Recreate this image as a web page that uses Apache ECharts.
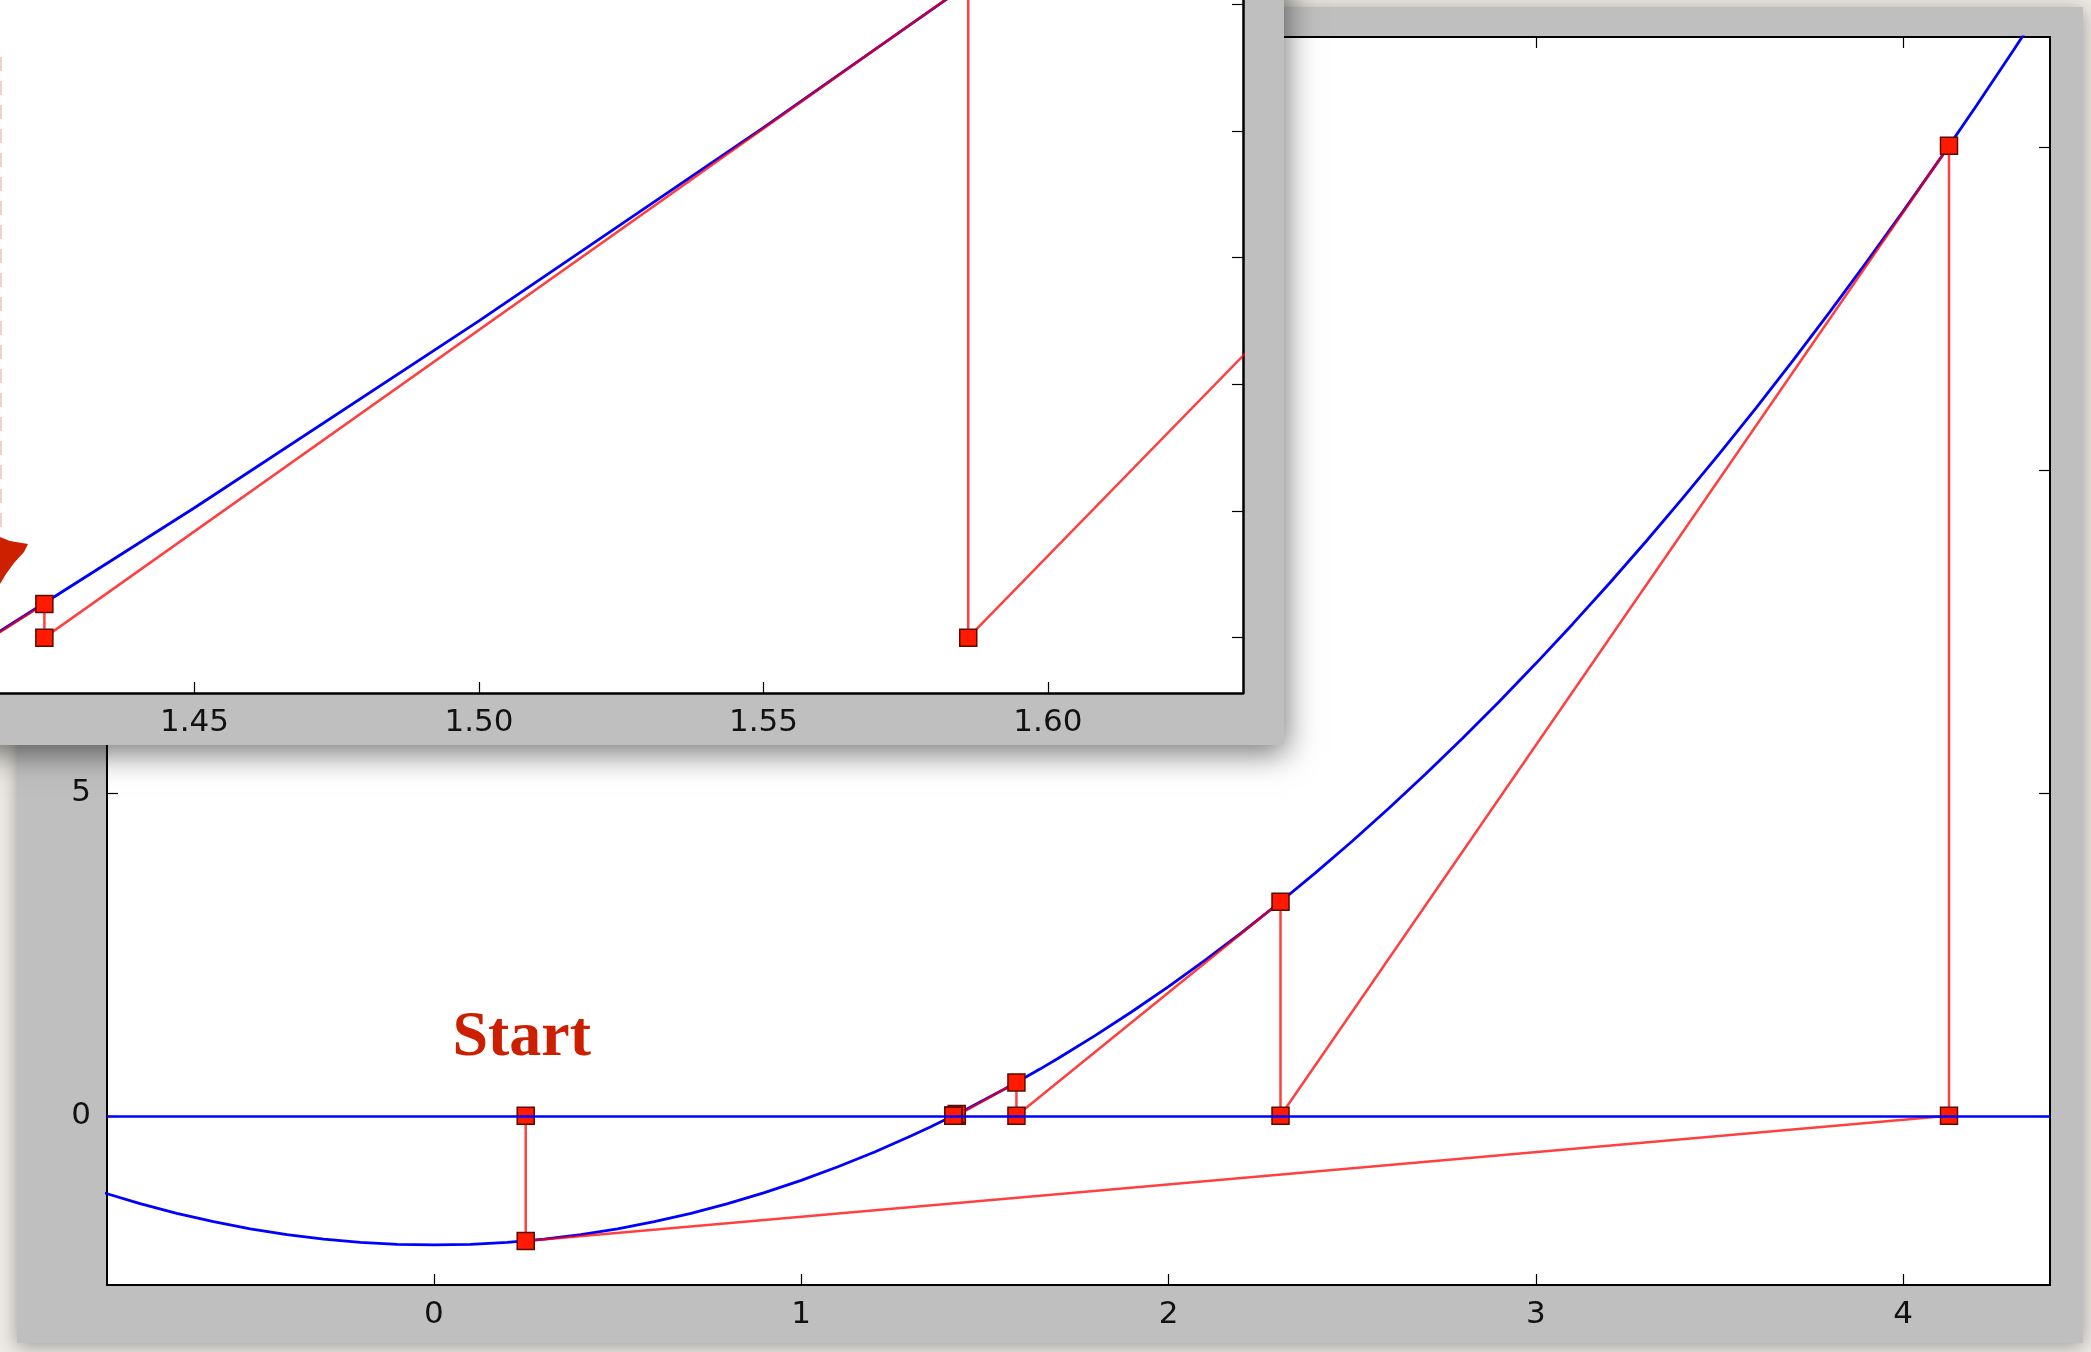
<!DOCTYPE html>
<html>
<head>
<meta charset="utf-8">
<script src="https://cdn.jsdelivr.net/npm/echarts@6/dist/echarts.min.js"></script>
<style>
html, body { margin: 0; padding: 0; background: #eeebe5; }
#chart { width: 2091px; height: 1352px; }
</style>
</head>
<body>
<div id="chart"></div>
<script>
// f(x) = x^2 - 2, sampled along the plotted range (finer near the root)
const curveX = [-0.9, -0.8, -0.7, -0.6, -0.5, -0.4, -0.3, -0.2, -0.1, 0, 0.1, 0.2, 0.3, 0.4, 0.5, 0.6, 0.7, 0.8, 0.9, 1.0, 1.1, 1.2, 1.3,
  1.35, 1.4, 1.45, 1.5, 1.55, 1.6, 1.65, 1.7,
  1.8, 1.9, 2.0, 2.1, 2.2, 2.3, 2.4, 2.5, 2.6, 2.7, 2.8, 2.9, 3.0, 3.1, 3.2, 3.3, 3.4, 3.5, 3.6, 3.7, 3.8, 3.9, 4.0, 4.1, 4.2, 4.3, 4.4, 4.5];
const curveY = [-1.19, -1.36, -1.51, -1.64, -1.75, -1.84, -1.91, -1.96, -1.99, -2, -1.99, -1.96, -1.91, -1.84, -1.75, -1.64, -1.51, -1.36, -1.19, -1.0, -0.79, -0.56, -0.31,
  -0.1775, -0.04, 0.1025, 0.25, 0.4025, 0.56, 0.7225, 0.89,
  1.24, 1.61, 2.0, 2.41, 2.84, 3.29, 3.76, 4.25, 4.76, 5.29, 5.84, 6.41, 7.0, 7.61, 8.24, 8.89, 9.56, 10.25, 10.96, 11.69, 12.44, 13.21, 14.0, 14.81, 15.64, 16.49, 17.36, 18.25];

// Newton iterates x_n and f(x_n); the last iterate is only marked on the axis
const iterX = [0.25, 4.125, 2.305, 1.586, 1.4236, 1.41424, 1.41421];
const iterY = [-1.9375, 15.016, 3.3125, 0.5163, 0.0266, 0.0000];

// tick values
const mainXTicks = [0, 1, 2, 3, 4];
const mainYTicks = [0, 5, 10, 15];
const zoomXTicks = [1.45, 1.50, 1.55, 1.60];
const zoomYTicks = [0, 0.1, 0.2, 0.3, 0.4, 0.5];

const startText = 'Start';

const curve = curveX.map((x, i) => [x, curveY[i]]);
const path = [];
iterY.forEach((fy, i) => { path.push([iterX[i], 0]); path.push([iterX[i], fy]); });
path.push([iterX[iterX.length - 1], 0]);

const pathData = path.map((p, i) => i === 0 ? {
  value: p,
  label: {
    show: true, formatter: startText, position: 'top', distance: 36, offset: [-4, 0],
    fontFamily: 'Liberation Serif', fontWeight: 'bold', fontSize: 64, color: '#cc1f00'
  }
} : p);

const BLUE = '#0000ff';
const RED_LINE = 'rgba(255,0,0,0.75)';
const labelFont = { fontFamily: 'DejaVu Sans', fontSize: 31, color: '#111' };
const tickStyle = { color: '#000', width: 1.2 };

function axis(grid, min, max, pos, ticks, labels, extra) {
  return Object.assign({
    type: 'value', gridIndex: grid, min: min, max: max, position: pos,
    axisLine: { show: false, onZero: false }, splitLine: { show: false },
    axisTick: { show: true, inside: true, length: 11, customValues: ticks, lineStyle: tickStyle },
    axisLabel: labels ? Object.assign({ show: true, customValues: ticks, margin: 14 }, labelFont) : { show: false }
  }, extra || {});
}

const chart = echarts.init(document.getElementById('chart'), null, { renderer: 'canvas' });

chart.setOption({
  backgroundColor: '#eeebe5',
  animation: false,
  graphic: [
    { type: 'rect', z: -10, shape: { x: 17, y: 7, width: 2066, height: 1336 },
      style: { fill: '#bfbfbf', shadowBlur: 18, shadowOffsetY: 3, shadowColor: 'rgba(0,0,0,0.35)' } },
    { type: 'rect', z: 10, shape: { x: -40, y: -40, width: 1324, height: 785 },
      style: { fill: '#bfbfbf', shadowBlur: 30, shadowOffsetX: 2, shadowOffsetY: 8, shadowColor: 'rgba(0,0,0,0.55)' } },
    { type: 'line', z: 20, shape: { x1: 1, y1: 57, x2: 1, y2: 536 },
      style: { stroke: 'rgba(220,60,40,0.25)', lineWidth: 2, lineDash: [14, 10] } },
    { type: 'polygon', z: 20, shape: { points: [[0, 537], [10, 541], [28, 544], [24, 552], [14, 563], [6, 574], [0, 584]] },
      style: { fill: '#cc2000' } }
  ],
  grid: [
    { left: 107, right: 41, top: 37, bottom: 67, show: true, backgroundColor: '#ffffff',
      borderColor: '#000', borderWidth: 2, z: 0 },
    { left: 0, right: 848, top: 0, bottom: 659, show: true, backgroundColor: '#ffffff',
      borderWidth: 0, z: 11 }
  ],
  xAxis: [
    axis(0, -0.89, 4.4, 'bottom', mainXTicks, true),
    axis(0, -0.89, 4.4, 'top', mainXTicks, false),
    axis(1, 1.4158, 1.6343, 'bottom', zoomXTicks, true, {
      z: 12,
      axisLine: { show: true, onZero: false, lineStyle: { color: '#000', width: 2.5 } },
      axisLabel: Object.assign({ show: true, customValues: zoomXTicks, margin: 14,
        formatter: v => v.toFixed(2) }, labelFont)
    })
  ],
  yAxis: [
    axis(0, -2.62, 16.7, 'left', mainYTicks, true, { axisLabel: Object.assign({ show: true, customValues: mainYTicks, margin: 16 }, labelFont) }),
    axis(0, -2.62, 16.7, 'right', mainYTicks, false),
    axis(1, -0.0437, 0.5033, 'right', zoomYTicks, false, {
      z: 12,
      axisLine: { show: true, onZero: false, lineStyle: { color: '#000', width: 2.5 } }
    })
  ],
  series: [
    {
      type: 'line', xAxisIndex: 0, yAxisIndex: 0, z: 2, data: curve,
      showSymbol: false, clip: true, silent: true,
      lineStyle: { color: BLUE, width: 2.8 },
      markLine: { silent: true, symbol: ['none', 'none'], label: { show: false },
        lineStyle: { color: BLUE, type: 'solid', width: 2.6 }, data: [{ yAxis: 0 }] }
    },
    {
      type: 'line', xAxisIndex: 0, yAxisIndex: 0, z: 3, data: pathData,
      symbol: 'rect', symbolSize: 17, showSymbol: true, showAllSymbol: true, clip: true, silent: true,
      lineStyle: { color: RED_LINE, width: 2.5 },
      itemStyle: { color: '#ff1a00', borderColor: '#5a0a00', borderWidth: 1.5 }
    },
    {
      type: 'line', xAxisIndex: 2, yAxisIndex: 2, z: 13, data: curve,
      showSymbol: false, clip: true, silent: true,
      lineStyle: { color: BLUE, width: 2.8 },
      markLine: { silent: true, symbol: ['none', 'none'], label: { show: false },
        lineStyle: { color: BLUE, type: 'solid', width: 2.6 }, data: [{ yAxis: 0 }] }
    },
    {
      type: 'line', xAxisIndex: 2, yAxisIndex: 2, z: 14, data: path,
      symbol: 'rect', symbolSize: 17, showSymbol: true, showAllSymbol: true, clip: true, silent: true,
      lineStyle: { color: RED_LINE, width: 2.5 },
      itemStyle: { color: '#ff1a00', borderColor: '#5a0a00', borderWidth: 1.5 }
    }
  ]
});
</script>
</body>
</html>
